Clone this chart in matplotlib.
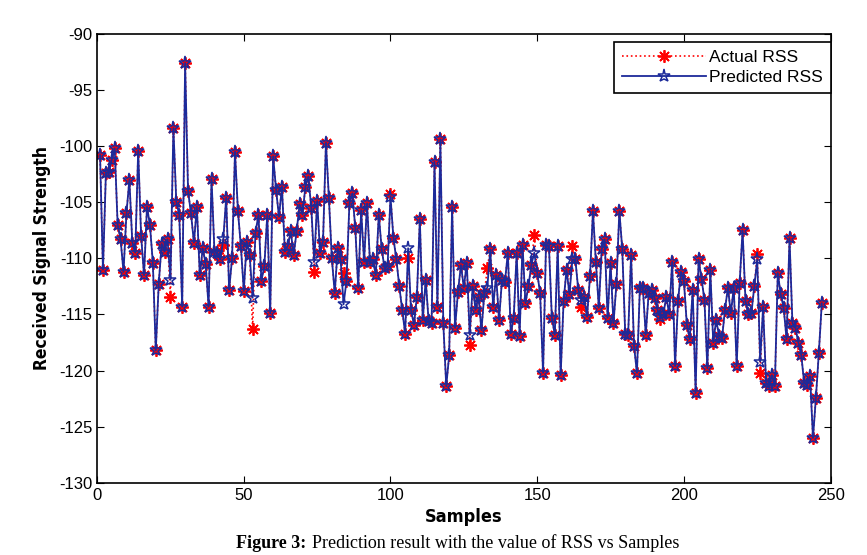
import numpy as np
import matplotlib
matplotlib.use("Agg")
import matplotlib.pyplot as plt

# predicted RSS, one value per sample
predicted = [
    -100.8, -111.0, -102.4, -102.3, -101.2, -100.2, -107.0, -108.3, -111.2, -106.0,
    -103.0, -108.6, -109.5, -100.4, -108.0, -111.5, -105.4, -107.0, -110.4, -118.2,
    -112.3, -108.7, -109.4, -108.3, -111.9, -98.4, -105.0, -106.1, -114.3, -92.6,
    -104.0, -106.0, -108.6, -105.4, -111.5, -109.1, -110.5, -114.3, -102.9, -109.4,
    -109.5, -110.1, -108.3, -104.6, -112.8, -110.0, -100.5, -105.8, -108.9, -112.9,
    -108.5, -109.7, -113.5, -107.7, -106.1, -112.0, -110.7, -106.1, -114.9, -100.9,
    -103.9, -106.3, -103.6, -109.4, -108.9, -107.6, -109.7, -107.6, -105.2, -106.1,
    -103.6, -102.7, -105.5, -110.3, -104.9, -109.5, -108.5, -99.7, -104.6, -110.0,
    -113.1, -109.1, -110.1, -114.1, -112.0, -105.1, -104.2, -107.3, -112.6, -105.7,
    -110.3, -105.1, -110.3, -110.1, -111.5, -106.1, -109.2, -110.9, -110.7, -104.5,
    -108.2, -110.1, -112.5, -114.6, -116.7, -109.1, -114.6, -115.9, -113.4, -106.5,
    -115.5, -111.9, -115.6, -115.8, -101.4, -114.3, -99.4, -115.8, -121.4, -118.6,
    -105.4, -116.2, -113.0, -110.6, -112.6, -110.4, -116.8, -112.5, -114.6, -113.4,
    -116.4, -113.1, -112.6, -109.2, -114.3, -111.5, -115.5, -111.9, -112.1, -109.5,
    -116.7, -115.3, -109.5, -116.9, -108.8, -114.0, -112.5, -110.6, -109.5, -111.3,
    -113.1, -120.2, -108.8, -108.9, -115.3, -116.8, -108.9, -120.4, -113.8, -111.0,
    -113.2, -110.1, -110.1, -112.8, -113.7, -113.4, -115.2, -111.6, -105.8, -110.3,
    -114.4, -109.2, -108.3, -115.3, -110.4, -115.8, -112.3, -105.8, -109.2, -116.7,
    -116.8, -109.7, -117.8, -120.2, -112.6, -112.6, -116.8, -113.1, -112.8, -113.5,
    -114.6, -115.2, -115.0, -113.4, -115.0, -110.3, -119.6, -113.8, -111.2, -112.0,
    -115.9, -117.2, -112.8, -122.0, -110.1, -111.8, -113.7, -119.8, -111.0, -117.5,
    -115.5, -116.9, -117.1, -114.6, -112.6, -114.9, -112.6, -119.6, -112.2, -107.5,
    -113.8, -115.0, -114.9, -112.5, -110.1, -119.2, -114.3, -121.1, -121.4, -120.4,
    -121.4, -111.3, -113.2, -114.4, -117.2, -108.2, -115.8, -116.2, -117.5, -118.6,
    -121.1, -121.3, -120.5, -126.0, -122.4, -118.4, -114.0,
]
# samples where the actual RSS differs visibly from the prediction
diff_samples = [25, 43, 53, 74, 84, 100, 106, 127, 133, 149, 162, 165, 192, 225, 226]
diff_values = [-113.4, -108.8, -116.3, -111.2, -111.3, -104.3, -110.0, -117.7,
               -110.9, -107.9, -108.9, -114.3, -115.4, -109.6, -120.2]

samples = np.arange(1, len(predicted) + 1)
actual = list(predicted)
for s, v in zip(diff_samples, diff_values):
    actual[s - 1] = v

plt.rcParams['font.family'] = ['Liberation Sans', 'DejaVu Sans']
plt.rcParams['axes.unicode_minus'] = False
fig = plt.figure(figsize=(8.67, 5.55), dpi=100)
ax = fig.add_axes([0.112, 0.130, 0.846, 0.809])

blue = '#1c2a9a'
asterisk = (8, 2, 0)
ax.plot(samples, actual, ':', color='red', marker=asterisk, markersize=9,
        markeredgewidth=1.3, linewidth=1.2, label='Actual RSS')
ax.plot(samples, predicted, '-', color=blue, marker='*', markersize=9.5,
        markerfacecolor='none', markeredgecolor=blue, markeredgewidth=1.1,
        linewidth=1.3, label='Predicted RSS')

ax.set_xlim(0, 250)
ax.set_ylim(-130, -90)
ax.set_xticks(range(0, 251, 50))
ax.set_yticks(range(-130, -89, 5))
ax.tick_params(direction='in', top=True, right=True, labelsize=12, length=5)
for sp in ax.spines.values():
    sp.set_linewidth(1.2)

ax.set_xlabel('Samples', fontsize=13, fontweight='bold', family='DejaVu Sans',
              fontstretch='condensed', labelpad=4)
ax.set_ylabel('Received Signal Strength', fontsize=12.5, fontweight='bold',
              family='DejaVu Sans', fontstretch='condensed', labelpad=6)

leg = ax.legend(loc='upper right', bbox_to_anchor=(1.0, 0.982), fontsize=12.5,
                fancybox=False, framealpha=1, edgecolor='black', handlelength=4.8,
                borderaxespad=0, handletextpad=0.2, borderpad=0.45, labelspacing=0.3)
leg.get_frame().set_linewidth(1.2)

# caption below the chart
serif = ['Liberation Serif', 'DejaVu Serif']
fig.canvas.draw()
renderer = fig.canvas.get_renderer()
t1 = fig.text(236 / 867, 1 - 543 / 555, 'Figure 3:', fontsize=13, fontweight='bold',
              family=serif, va='center', ha='left')
bb = t1.get_window_extent(renderer)
fig.text((bb.x1 + 6) / 867, 1 - 543 / 555,
         'Prediction result with the value of RSS vs Samples',
         fontsize=13, family=serif, va='center', ha='left')

fig.savefig('out.png', dpi=100)
